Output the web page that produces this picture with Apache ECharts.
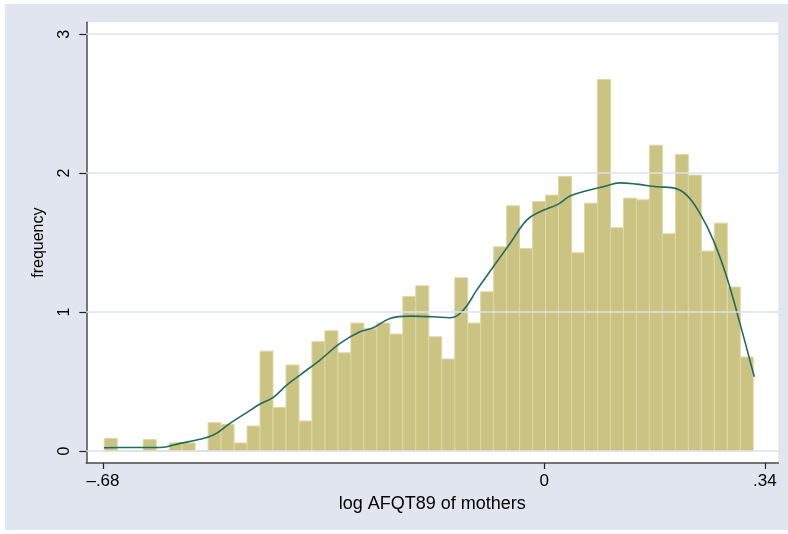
<!DOCTYPE html>
<html>
<head>
<meta charset="utf-8">
<script src="https://cdn.jsdelivr.net/npm/echarts@6/dist/echarts.min.js"></script>
<style>
html,body{margin:0;padding:0;background:#fff;}
#chart{width:788px;height:534px;}
</style>
</head>
<body>
<div id="chart"></div>
<script>
// Histogram definition (bins of equal width starting at binStart)
var binStart = -0.678;
var binWidth = 0.02;
var freq = [
  0.091, 0, 0, 0.082, 0, 0.058, 0.058, 0, 0.204, 0.192,
  0.058, 0.180, 0.719, 0.314, 0.619, 0.216, 0.787, 0.866, 0.707, 0.921,
  0.880, 0.921, 0.842, 1.113, 1.189, 0.822, 0.662, 1.247, 0.921, 1.146,
  1.470, 1.765, 1.458, 1.796, 1.842, 1.976, 1.427, 1.784, 2.674, 1.607,
  1.820, 1.808, 2.201, 1.564, 2.135, 1.986, 1.439, 1.640, 1.180, 0.676
];
// Kernel density curve
var kdeX = [-0.6784, -0.6384, -0.5921, -0.5613, -0.5356, -0.5100, -0.4843, -0.4586, -0.4380, -0.4176,
  -0.3969, -0.3764, -0.3456, -0.3148, -0.2840, -0.2635, -0.2377, -0.2069, -0.1710, -0.1453,
  -0.1248, -0.1042, -0.0786, -0.0528, -0.0271, -0.0066, 0.0216, 0.0396, 0.0653, 0.0909,
  0.1166, 0.1424, 0.1732, 0.1988, 0.2194, 0.2399, 0.2604, 0.2810, 0.3015, 0.3236];
var kdeY = [0.024, 0.025, 0.025, 0.055, 0.079, 0.115, 0.199, 0.276, 0.338, 0.386,
  0.475, 0.547, 0.655, 0.775, 0.858, 0.887, 0.954, 0.971, 0.966, 0.959,
  1.014, 1.158, 1.326, 1.494, 1.662, 1.722, 1.777, 1.835, 1.873, 1.902,
  1.930, 1.921, 1.902, 1.894, 1.842, 1.710, 1.518, 1.254, 0.919, 0.535];
var xTicks = [-0.68, 0, 0.34];
var xTickLabels = ['\u2013.68', '0', '.34'];
var yTicks = [0, 1, 2, 3];
var yTickLabels = ['0', '1', '2', '3'];
var xTitle = 'log AFQT89 of mothers';
var yTitle = 'frequency';

var histData = freq.map(function (f, i) {
  return [binStart + i * binWidth, binStart + (i + 1) * binWidth, f];
});
var kdeData = kdeX.map(function (x, i) { return [x, kdeY[i]]; });

var chart = echarts.init(document.getElementById('chart'), null, {renderer: 'canvas'});
var fontFam = '"Liberation Sans", Arial, sans-serif';
chart.setOption({
  backgroundColor: '#ffffff',
  animation: false,
  graphic: [{
    type: 'rect', z: -10, silent: true,
    shape: {x: 5, y: 4, width: 783, height: 526},
    style: {fill: '#e1e5f0'}
  }],
  grid: {
    left: 86.3, right: 9.7, top: 22.3, bottom: 71,
    show: true, backgroundColor: '#ffffff', borderWidth: 0
  },
  xAxis: {
    type: 'value',
    min: -0.7057, max: 0.3606,
    name: xTitle, nameLocation: 'middle', nameGap: 32,
    nameTextStyle: {fontFamily: fontFam, fontSize: 18, color: '#000'},
    axisLine: {show: true, onZero: false, lineStyle: {color: '#4a4a4a', width: 1.5}},
    axisTick: {show: true, customValues: xTicks, length: 6, lineStyle: {color: '#222', width: 1.2}},
    axisLabel: {
      customValues: xTicks, margin: 10, fontFamily: fontFam, fontSize: 17, color: '#000',
      formatter: function (v) {
        var idx = xTicks.indexOf(v);
        return idx >= 0 ? xTickLabels[idx] : '';
      }
    },
    splitLine: {show: false}
  },
  yAxis: {
    type: 'value',
    min: -0.0863, max: 3.086,
    name: yTitle, nameLocation: 'middle', nameGap: 40, nameRotate: 90,
    nameTextStyle: {fontFamily: fontFam, fontSize: 16, color: '#000'},
    axisLine: {show: true, onZero: false, lineStyle: {color: '#4a4a4a', width: 1.5}},
    axisTick: {show: true, customValues: yTicks, length: 7, lineStyle: {color: '#222', width: 1.2}},
    axisLabel: {
      customValues: yTicks, rotate: 90, margin: 14, fontFamily: fontFam, fontSize: 16, color: '#000',
      formatter: function (v) {
        var idx = yTicks.indexOf(v);
        return idx >= 0 ? yTickLabels[idx] : '';
      }
    },
    splitLine: {show: false}
  },
  series: [{
    type: 'line', data: [], z: 1, silent: true,
    markLine: {
      silent: true, symbol: ['none', 'none'], label: {show: false},
      lineStyle: {color: '#dbe2ef', width: 1.5, type: 'solid'},
      data: yTicks.map(function (v) { return {yAxis: v}; })
    }
  }, {
    type: 'custom', z: 2, silent: true,
    data: histData,
    encode: {x: [0, 1], y: 2},
    renderItem: function (params, api) {
      var p0 = api.coord([api.value(0), api.value(2)]);
      var p1 = api.coord([api.value(1), 0]);
      return {
        type: 'rect',
        shape: {x: p0[0], y: p0[1], width: p1[0] - p0[0], height: p1[1] - p0[1]},
        style: {fill: '#cac381', stroke: '#ddd8a6', lineWidth: 1}
      };
    }
  }, {
    type: 'line', z: 3, silent: true,
    data: kdeData, smooth: 0.4, showSymbol: false,
    lineStyle: {color: '#236b5f', width: 1.6}
  }]
});
</script>
</body>
</html>
